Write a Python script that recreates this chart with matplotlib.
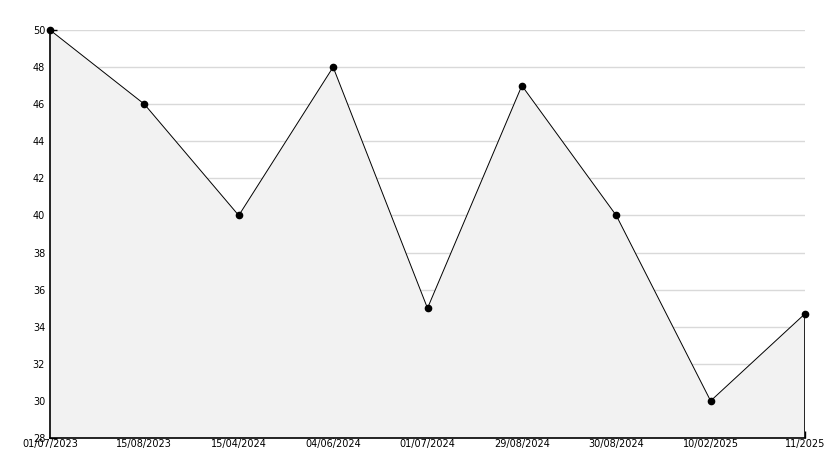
import numpy as np
import matplotlib.pyplot as plt
from matplotlib.ticker import MultipleLocator

dates = ['01/07/2023', '15/08/2023', '15/04/2024', '04/06/2024', '01/07/2024',
         '29/08/2024', '30/08/2024', '10/02/2025', '11/2025']
values = [50, 46, 40, 48, 35, 47, 40, 30, 34.7]

fig = plt.figure(figsize=(8.34, 4.68), dpi=100)
ax = fig.add_axes([50/834, 30/468, 755/834, 408/468])

x = np.arange(len(dates))
ymin = 28
ax.fill_between(x, values, ymin, facecolor='#f2f2f2', edgecolor='none', zorder=1)
# right edge of the filled area
ax.vlines(x[-1], ymin, values[-1], color='black', linewidth=1.2, zorder=2)
ax.plot(x, values, color='black', linewidth=0.7, marker='o', markersize=4.5,
        zorder=3, clip_on=False)

ax.set_xlim(0, len(dates) - 1)
ax.set_ylim(ymin, 50)
ax.set_xticks(x)
ax.set_xticklabels(dates)
ax.yaxis.set_major_locator(MultipleLocator(2))
ax.yaxis.set_minor_locator(MultipleLocator(1))
ax.tick_params(axis='both', which='major', direction='in', length=5, labelsize=7, width=1)
ax.tick_params(axis='y', which='minor', direction='in', length=4, width=1, left=True)
ax.tick_params(axis='x', pad=1)

for v in range(30, 51, 2):
    ax.axhline(v, color='#d9d9d9', linewidth=1, zorder=0)
ax.set_axisbelow(True)

ax.spines['top'].set_visible(False)
ax.spines['right'].set_visible(False)
ax.spines['left'].set_linewidth(1.2)
ax.spines['bottom'].set_linewidth(1.2)
ax.patch.set_alpha(0)

fig.savefig('out.png', dpi=100)
